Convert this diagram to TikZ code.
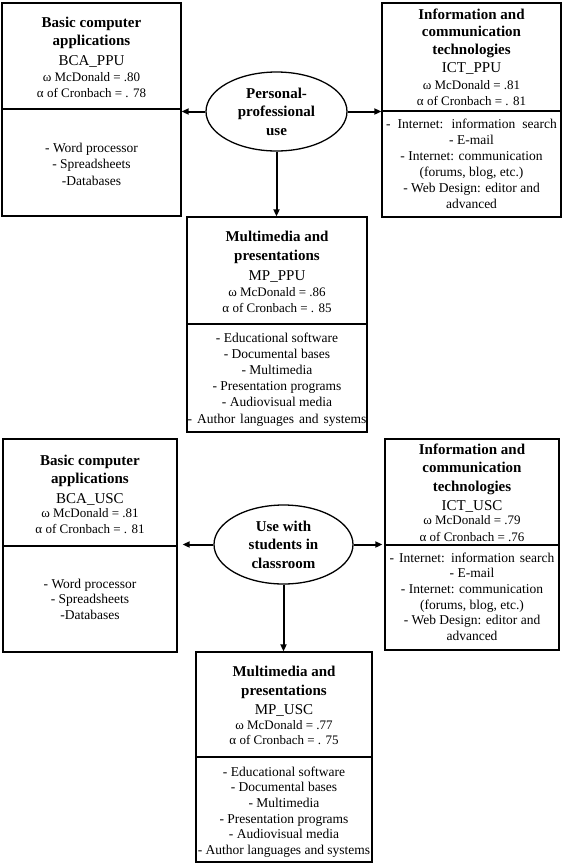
\documentclass[tikz,border=0pt]{standalone}
\usepackage{fontspec}
\setmainfont{Liberation Serif}
\usetikzlibrary{arrows.meta,shapes.geometric}
\newcommand\ttlfont{\fontsize{15}{18.5}\selectfont\bfseries}
\newcommand\idfont{\fontsize{15}{18}\selectfont}
\newcommand\stfont{\fontsize{13}{16}\selectfont}
\newcommand\lsfont{\fontsize{13.5}{16}\selectfont}
\newcommand\wide[2]{{\spaceskip=#1\relax #2}}
\newcommand\textlines[6]{%
  \foreach \lntxt [count=\i] in {#6} {%
    \node[#2, anchor=base] (#1-\i) at (#3, {#4+(\i-1)*#5}) {\lntxt};}}
\begin{document}
\begin{tikzpicture}[x=1pt,y=-1pt,
  box/.style={draw, rectangle, line width=1.3pt, inner sep=0pt},
  oval/.style={draw, ellipse, line width=1.3pt, inner sep=0pt, align=center, font=\ttlfont},
  ttl/.style={inner sep=0pt, font=\ttlfont},
  idl/.style={inner sep=0pt, font=\idfont},
  stl/.style={inner sep=0pt, font=\stfont},
  lsl/.style={inner sep=0pt, font=\lsfont},
  divider/.style={line width=1.3pt},
  arr/.style={line width=2pt, -{Triangle[length=7pt,width=6pt]}}]
\useasboundingbox (0,0) rectangle (562,868);

% ---------- Personal-professional use ----------
\node[box, minimum width=179pt, minimum height=213pt] (bcaP) at (91.5,109.5) {};
\node[box, minimum width=179pt, minimum height=214pt] (ictP) at (471.5,110) {};
\node[box, minimum width=180pt, minimum height=215pt] (mpP) at (277,324.5) {};
\node[oval, minimum width=141pt, minimum height=79pt] (ppu) at (276.5,111.5) {Personal-\\professional\\use};

\draw[divider] (bcaP.west |- 0,109) -- (bcaP.east |- 0,109);
\draw[divider] (ictP.west |- 0,111) -- (ictP.east |- 0,111);
\draw[divider] (mpP.west |- 0,324) -- (mpP.east |- 0,324);

\textlines{bcaPt}{ttl}{91.5}{27}{18.5}{Basic computer, applications}
\node[idl, anchor=base] (bcaPid) at (91.5,65.5) {BCA\_PPU};
\textlines{bcaPs}{stl}{91.5}{81}{16}{ω McDonald = .80, α of Cronbach = . 78}
\textlines{bcaPl}{lsl}{91.5}{152}{16.5}{- Word processor, - Spreadsheets, -Databases}

\textlines{ictPt}{ttl}{471.5}{19}{17.5}{Information and, communication, technologies}
\node[idl, anchor=base] (ictPid) at (471.5,72) {ICT\_PPU};
\textlines{ictPs}{stl}{471.5}{89}{16.5}{ω McDonald = .81, α of Cronbach = . 81}
\textlines{ictPl}{lsl}{471.5}{128}{16}{\wide{7pt}{- Internet: information search}, - E-mail, - Internet: communication, {(forums, blog, etc.)}, - Web Design: editor and, advanced}

\textlines{mpPt}{ttl}{277}{241}{19}{Multimedia and, presentations}
\node[idl, anchor=base] (mpPid) at (277,280) {MP\_PPU};
\textlines{mpPs}{stl}{277}{296}{16}{ω McDonald = .86, α of Cronbach = . 85}
\textlines{mpPl}{lsl}{277}{342}{16.2}{- Educational software, - Documental bases, - Multimedia, - Presentation programs, - Audiovisual media, \wide{5pt}{- Author languages and systems}}

\draw[arr] (ppu.west) -- (ppu.west -| bcaP.east);
\draw[arr] (ppu.east) -- (ppu.east -| ictP.west);
\draw[arr] (ppu.south) -- (ppu.south |- mpP.north);

% ---------- Use with students in classroom ----------
\node[box, minimum width=174pt, minimum height=213pt] (bcaU) at (90,545.5) {};
\node[box, minimum width=174pt, minimum height=211pt] (ictU) at (472,544.5) {};
\node[box, minimum width=176pt, minimum height=210pt] (mpU) at (284,757) {};
\node[oval, minimum width=139pt, minimum height=79pt] (usc) at (283.5,544.5) {Use with\\students in\\classroom};

\draw[divider] (bcaU.west |- 0,546) -- (bcaU.east |- 0,546);
\draw[divider] (ictU.west |- 0,545) -- (ictU.east |- 0,545);
\draw[divider] (mpU.west |- 0,757) -- (mpU.east |- 0,757);

\textlines{bcaUt}{ttl}{90}{465}{18.5}{Basic computer, applications}
\node[idl, anchor=base] (bcaUid) at (90,503) {BCA\_USC};
\textlines{bcaUs}{stl}{90}{517.5}{15.5}{ω McDonald = .81, α of Cronbach = . 81}
\textlines{bcaUl}{lsl}{90}{588}{15.5}{- Word processor, - Spreadsheets, -Databases}

\textlines{ictUt}{ttl}{472}{454}{18.5}{Information and, communication, technologies}
\node[idl, anchor=base] (ictUid) at (472,510) {ICT\_USC};
\textlines{ictUs}{stl}{472}{524.5}{17}{ω McDonald = .79, α of Cronbach = .76}
\textlines{ictUl}{lsl}{472}{562}{15.7}{\wide{5pt}{- Internet: information search}, - E-mail, - Internet: communication, {(forums, blog, etc.)}, - Web Design: editor and, advanced}

\textlines{mpUt}{ttl}{284}{676.5}{18.5}{Multimedia and, presentations}
\node[idl, anchor=base] (mpUid) at (284,714) {MP\_USC};
\textlines{mpUs}{stl}{284}{729}{15.5}{ω McDonald = .77, α of Cronbach = . 75}
\textlines{mpUl}{lsl}{284}{776}{15.7}{- Educational software, - Documental bases, - Multimedia, - Presentation programs, - Audiovisual media, - Author languages and systems}

\draw[arr, shorten >=5pt] (usc.west) -- (usc.west -| bcaU.east);
\draw[arr, shorten >=2pt] (usc.east) -- (usc.east -| ictU.west);
\draw[arr] (usc.south) -- (usc.south |- mpU.north);
\end{tikzpicture}
\end{document}
